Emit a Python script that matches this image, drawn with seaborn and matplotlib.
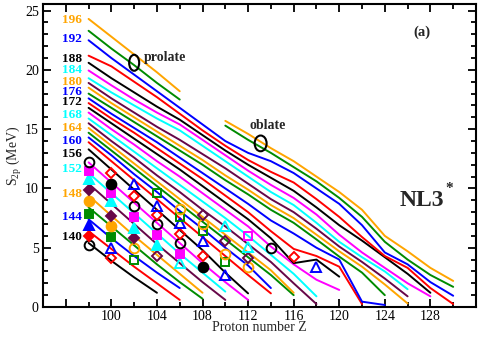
import numpy as np
import pandas as pd
import matplotlib
matplotlib.use("Agg")
import matplotlib.pyplot as plt
import seaborn as sns
from matplotlib.patches import Ellipse
from matplotlib.ticker import MultipleLocator, FixedLocator

sns.set_theme(style="ticks")
plt.rcParams["font.family"] = ["Liberation Serif", "DejaVu Serif"]
plt.rcParams["mathtext.fontset"] = "custom"
plt.rcParams["mathtext.rm"] = "Liberation Serif"
plt.rcParams["mathtext.it"] = "Liberation Serif:italic"
plt.rcParams["mathtext.bf"] = "Liberation Serif:bold"

# ---------------- data ----------------
Z_grid = [98, 100, 102, 104, 106, 108, 110, 112, 114, 116, 118, 120, 122, 124, 126, 128, 130]
Z_oblate = [110, 112, 114, 116, 118, 120, 122, 124, 126, 128, 130]

# theoretical S2p (MeV) along isotone chains, starting at Z = 98
s2p_140 = [5.4, 3.9, 2.5, 1.2]
s2p_142 = [6.4, 4.9, 3.4, 2.0, 0.6]
s2p_144 = [7.4, 5.8, 4.3, 2.9, 1.6]
s2p_146 = [8.4, 6.8, 5.2, 3.6, 2.1, 0.7]
s2p_148 = [9.4, 7.7, 6.0, 4.4, 2.8, 1.2]
s2p_150 = [10.4, 8.7, 7.0, 5.3, 3.7, 2.1, 0.6]
s2p_152 = [11.3, 9.6, 7.9, 6.2, 4.5, 2.9, 1.3]
s2p_154 = [12.2, 10.5, 8.8, 7.1, 5.4, 3.7, 2.1, 0.6]
s2p_156 = [13.3, 11.6, 9.9, 8.2, 6.5, 4.8, 2.9, 1.15]
s2p_158 = [13.9, 12.3, 10.7, 9.1, 7.5, 5.9, 4.3, 2.7, 1.15]
s2p_160 = [14.3, 12.8, 11.2, 9.7, 8.1, 6.6, 5.0, 3.5, 1.6]
s2p_162 = [14.7, 13.2, 11.7, 10.2, 8.7, 7.2, 5.7, 4.2, 2.7, 1.0]
s2p_164 = [15.1, 13.6, 12.1, 10.6, 9.1, 7.6, 6.1, 4.6, 3.1, 1.2]
s2p_166 = [15.5, 14.0, 12.6, 11.1, 9.7, 8.2, 6.8, 5.3, 3.8, 2.0, 0.25]
s2p_168 = [15.9, 14.5, 13.1, 11.7, 10.3, 8.9, 7.5, 6.0, 4.4, 2.8, 0.9]
s2p_170 = [16.4, 15.0, 13.7, 12.3, 11.0, 9.6, 8.2, 6.8, 5.1, 3.6, 2.3, 1.44]
s2p_172 = [16.8, 15.5, 14.2, 12.9, 11.6, 10.2, 8.8, 7.4, 5.8, 3.7, 4.0, 2.56]
s2p_174 = [17.2, 15.9, 14.7, 13.4, 12.1, 10.8, 9.4, 8.0, 6.4, 4.9, 4.3, 3.4, 0.25]
s2p_176 = [17.6, 16.3, 15.1, 13.9, 12.6, 11.3, 10.0, 8.7, 7.3, 6.2, 5.0, 4.0, 0.45, 0.17]
s2p_178 = [18.0, 16.8, 15.6, 14.4, 13.2, 12.0, 10.7, 9.5, 8.2, 7.1, 5.7, 4.25, 2.9, 1.0]
s2p_180 = [18.5, 17.2, 16.0, 14.8, 13.6, 12.4, 11.1, 9.9, 8.6, 7.5, 6.1, 4.7, 3.4, 1.9, 0.3]
s2p_182 = [18.9, 17.6, 16.4, 15.2, 14.1, 12.9, 11.7, 10.4, 9.1, 8.0, 6.6, 5.1, 3.8, 2.4, 0.9]
s2p_184 = [19.3, 18.1, 17.0, 15.9, 14.9, 13.6, 12.3, 11.0, 9.7, 8.6, 7.1, 5.5, 4.2, 3.0, 1.5]
s2p_186 = [19.95, 18.7, 17.5, 16.4, 15.4, 14.1, 12.8, 11.5, 10.3, 9.2, 7.8, 6.1, 4.6, 3.3, 2.0, 0.9]
s2p_188 = [20.6, 19.3, 18.1, 16.9, 15.8, 14.5, 13.2, 12.0, 10.9, 9.8, 8.4, 6.9, 5.6, 4.2, 2.8, 1.2]
s2p_190 = [21.2, 20.3, 19.0, 17.7, 16.3, 14.9, 13.6, 12.4, 11.4, 10.5, 9.1, 7.6, 5.9, 4.3, 3.3, 1.6, 0.25]
s2p_192 = [22.5, 21.0, 19.6, 18.2, 16.8, 15.4, 14.0, 13.0, 12.3, 11.3, 10.0, 8.7, 6.9, 4.6, 3.6, 2.1, 0.95]
s2p_194 = [23.3, 21.8, 20.4, 18.9, 17.5]
s2p_196 = [24.3, 22.8, 21.3, 19.8, 18.2]
s2p_194_oblate = [15.3, 14.1, 13.0, 11.8, 10.6, 9.2, 7.6, 5.5, 4.0, 2.7, 1.7]
s2p_196_oblate = [15.7, 14.6, 13.4, 12.3, 11.0, 9.7, 8.2, 6.0, 4.7, 3.3, 2.2]

# experimental points
exp_Z = [98, 98, 98, 98, 98, 98, 98, 98, 98,
         100, 100, 100, 100, 100, 100, 100, 100, 100,
         102, 102, 102, 102, 102, 102, 102, 102,
         104, 104, 104, 104, 104, 104, 104,
         106, 106, 106, 106, 106, 106, 106,
         108, 108, 108, 108, 108, 108,
         110, 110, 110, 110, 110,
         112, 112, 112, 112,
         114, 116, 118]
exp_N = [140, 142, 144, 146, 148, 150, 152, 154, 156,
         142, 144, 146, 148, 150, 152, 154, 156, 158,
         146, 148, 150, 152, 154, 156, 158, 160,
         150, 152, 154, 156, 158, 160, 162,
         152, 154, 156, 158, 160, 162, 164,
         156, 158, 160, 162, 164, 166,
         160, 162, 164, 166, 168,
         164, 166, 168, 170,
         172, 174, 176]
exp_S = [5.2, 6.0, 6.9, 7.85, 8.95, 9.9, 10.8, 11.5, 12.2,
         4.1, 4.95, 5.9, 6.8, 7.7, 8.9, 9.65, 10.4, 11.3,
         4.0, 4.95, 5.85, 6.7, 7.6, 8.5, 9.4, 10.4,
         4.3, 5.2, 6.1, 7.0, 7.8, 8.5, 9.65,
         3.7, 4.5, 5.4, 6.2, 7.1, 7.6, 8.25,
         3.4, 4.3, 5.6, 6.4, 7.0, 7.8,
         2.7, 3.8, 4.5, 5.6, 6.8,
         3.4, 4.1, 5.1, 6.0,
         4.95, 4.2, 3.4]
exp_filled = [0, 1, 1, 1, 1, 1, 1, 1, 0,
              0, 0, 1, 1, 1, 1, 1, 1, 0,
              0, 0, 1, 1, 1, 0, 0, 0,
              0, 1, 1, 0, 0, 0, 0,
              0, 1, 0, 0, 0, 0, 0,
              1, 0, 0, 0, 0, 0,
              0, 0, 0, 0, 0,
              0, 0, 0, 0,
              0, 0, 0]

label_N = [196, 192, 188, 184, 180, 176, 172, 168, 164, 160, 156, 152, 148, 144, 140]
label_S = [24.2, 22.6, 20.9, 19.95, 19.0, 18.1, 17.3, 16.2, 15.1, 14.0, 12.9, 11.6, 9.5, 7.6, 5.9]

colors = ["black", "red", "blue", "#008b00", "orange", "#670748", "cyan", "magenta"]
shapes = ["o", "D", "^", "s"]
msize = {"o": 7.0, "D": 5.6, "^": 7.2, "s": 6.2}

def col(N):
    return colors[((N - 140) // 2) % 8]

def shp(N):
    return shapes[((N - 140) // 2) % 4]

chains = [(140, s2p_140), (142, s2p_142), (144, s2p_144), (146, s2p_146),
          (148, s2p_148), (150, s2p_150), (152, s2p_152), (154, s2p_154),
          (156, s2p_156), (158, s2p_158), (160, s2p_160), (162, s2p_162),
          (164, s2p_164), (166, s2p_166), (168, s2p_168), (170, s2p_170),
          (172, s2p_172), (174, s2p_174), (176, s2p_176), (178, s2p_178),
          (180, s2p_180), (182, s2p_182), (184, s2p_184), (186, s2p_186),
          (188, s2p_188), (190, s2p_190), (192, s2p_192), (194, s2p_194),
          (196, s2p_196)]

rows = []
for N, vals in chains:
    for z, s in zip(Z_grid, vals):
        rows.append((N, "p", z, s))
for N, vals in [(194, s2p_194_oblate), (196, s2p_196_oblate)]:
    for z, s in zip(Z_oblate, vals):
        rows.append((N, "o", z, s))
df = pd.DataFrame(rows, columns=["N", "seg", "Z", "S"])
df["key"] = df["N"].astype(str) + df["seg"]

# ---------------- figure ----------------
fig = plt.figure(figsize=(4.8, 3.37), dpi=100)
ax = fig.add_axes([0.0896, 0.089, 0.902, 0.9006])

for key, g in df.groupby("key", sort=False):
    N = int(g["N"].iloc[0])
    sns.lineplot(data=g, x="Z", y="S", color=col(N), lw=1.4, ax=ax,
                 estimator=None, sort=False, legend=False)

for z, n, s, f in zip(exp_Z, exp_N, exp_S, exp_filled):
    c = col(n)
    m = shp(n)
    ax.plot([z], [s], linestyle="none", marker=m, ms=msize[m],
            mfc=c if f else "none", mec=c, mew=1.4, zorder=5)

for n, s in zip(label_N, label_S):
    ax.text(97.45, s, str(n), color=col(n), fontsize=9.5, fontweight="bold",
            ha="right", va="center")

ax.add_patch(Ellipse((102.0, 20.6), 0.88, 1.35, fill=False, ec="black", lw=1.5, zorder=6))
ax.add_patch(Ellipse((113.1, 13.8), 1.05, 1.33, fill=False, ec="black", lw=1.5, zorder=6))
ax.text(102.85, 21.05, "prolate", fontsize=10, fontweight="bold", va="center", ha="left")
ax.text(112.1, 15.35, "oblate", fontsize=10, fontweight="bold", va="center", ha="left")
ax.text(126.5, 23.2, "(a)", fontsize=10.5, fontweight="bold", va="center", ha="left")
ax.text(125.3, 9.0, "NL3", fontsize=17, fontweight="bold", va="center", ha="left")
ax.text(129.35, 10.0, "*", fontsize=11, fontweight="bold", va="center", ha="left")

ax.set_xlim(94, 132)
ax.set_ylim(0, 25.6)
xt = [96, 100, 104, 108, 112, 116, 120, 124, 128, 132]
ax.xaxis.set_major_locator(FixedLocator(xt))
ax.set_xticklabels(["" if t in (96, 132) else str(t) for t in xt])
ax.xaxis.set_minor_locator(MultipleLocator(2))
ax.yaxis.set_major_locator(MultipleLocator(5))
ax.yaxis.set_minor_locator(MultipleLocator(1))
ax.tick_params(which="both", direction="in", top=True, right=True, width=1.3,
               labelsize=10, colors="black")
ax.tick_params(which="major", length=6)
ax.tick_params(which="minor", length=3.5)
ax.tick_params(axis="x", which="major", pad=2)
ax.tick_params(axis="y", which="major", pad=3)
for sp in ax.spines.values():
    sp.set_linewidth(1.5)
    sp.set_color("black")
    sp.set_visible(True)
ax.set_xlabel("Proton number Z", fontsize=10, labelpad=-1)
ax.set_ylabel(r"S$_{\rm 2p}$ (MeV)", fontsize=10, labelpad=1)
ax.set_facecolor("white")
fig.patch.set_facecolor("white")

fig.savefig("out.png", dpi=100)
